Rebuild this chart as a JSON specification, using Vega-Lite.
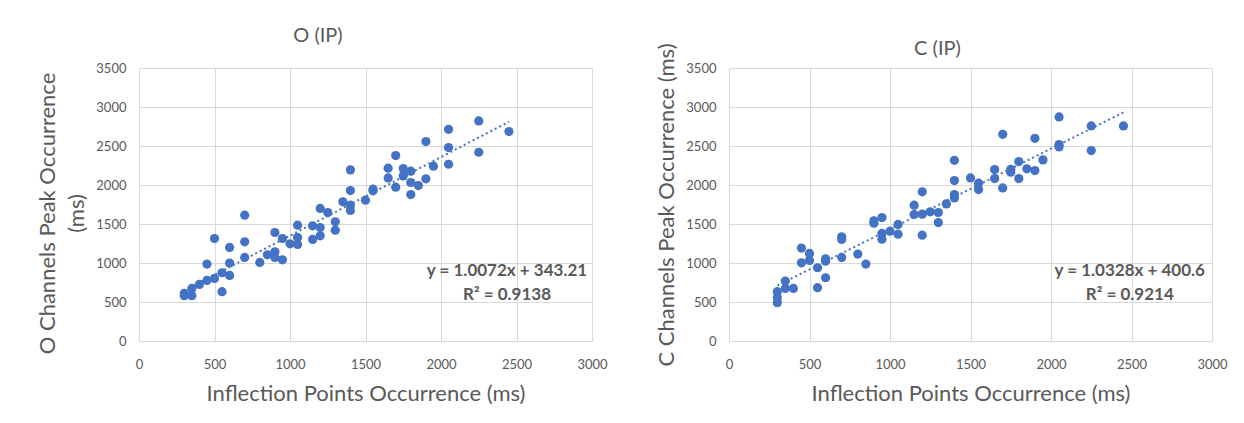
{
  "$schema": "https://vega.github.io/schema/vega-lite/v6.json",
  "background": "white",
  "padding": {"left": 36, "top": 26, "right": 5, "bottom": 5},
  "spacing": 137,
  "bounds": "flush",
  "datasets": {
    "O": [
      {"ip": 300, "peak": 610}, {"ip": 300, "peak": 580}, {"ip": 350, "peak": 674}, {"ip": 350, "peak": 580},
      {"ip": 400, "peak": 725}, {"ip": 450, "peak": 777}, {"ip": 450, "peak": 986}, {"ip": 500, "peak": 1314},
      {"ip": 500, "peak": 802}, {"ip": 550, "peak": 875}, {"ip": 550, "peak": 632}, {"ip": 600, "peak": 1199},
      {"ip": 600, "peak": 999}, {"ip": 600, "peak": 841}, {"ip": 700, "peak": 1613}, {"ip": 700, "peak": 1272},
      {"ip": 700, "peak": 1071}, {"ip": 800, "peak": 1007}, {"ip": 850, "peak": 1105}, {"ip": 900, "peak": 1391},
      {"ip": 900, "peak": 1144}, {"ip": 900, "peak": 1071}, {"ip": 950, "peak": 1314}, {"ip": 950, "peak": 1041},
      {"ip": 1000, "peak": 1246}, {"ip": 1050, "peak": 1485}, {"ip": 1050, "peak": 1327}, {"ip": 1050, "peak": 1238},
      {"ip": 1150, "peak": 1477}, {"ip": 1150, "peak": 1302}, {"ip": 1200, "peak": 1699}, {"ip": 1200, "peak": 1455},
      {"ip": 1200, "peak": 1349}, {"ip": 1250, "peak": 1647}, {"ip": 1300, "peak": 1528}, {"ip": 1300, "peak": 1421},
      {"ip": 1350, "peak": 1784}, {"ip": 1400, "peak": 2194}, {"ip": 1400, "peak": 1929}, {"ip": 1400, "peak": 1741},
      {"ip": 1400, "peak": 1673}, {"ip": 1500, "peak": 1805}, {"ip": 1550, "peak": 1946}, {"ip": 1550, "peak": 1925},
      {"ip": 1650, "peak": 2215}, {"ip": 1650, "peak": 2091}, {"ip": 1700, "peak": 2377}, {"ip": 1700, "peak": 1972},
      {"ip": 1750, "peak": 2211}, {"ip": 1750, "peak": 2117}, {"ip": 1800, "peak": 2177}, {"ip": 1800, "peak": 2032},
      {"ip": 1800, "peak": 1878}, {"ip": 1850, "peak": 1993}, {"ip": 1900, "peak": 2557}, {"ip": 1900, "peak": 2079},
      {"ip": 1950, "peak": 2241}, {"ip": 2050, "peak": 2714}, {"ip": 2050, "peak": 2480}, {"ip": 2050, "peak": 2266},
      {"ip": 2250, "peak": 2821}, {"ip": 2250, "peak": 2420}, {"ip": 2450, "peak": 2685}
    ],
    "Otrend": [{"ip": 300, "peak": 645.37}, {"ip": 2450, "peak": 2810.85}],
    "C": [
      {"ip": 300, "peak": 632}, {"ip": 300, "peak": 555}, {"ip": 300, "peak": 491}, {"ip": 350, "peak": 768},
      {"ip": 350, "peak": 674}, {"ip": 400, "peak": 674}, {"ip": 450, "peak": 1191}, {"ip": 450, "peak": 1003},
      {"ip": 500, "peak": 1122}, {"ip": 500, "peak": 1033}, {"ip": 550, "peak": 939}, {"ip": 550, "peak": 683},
      {"ip": 600, "peak": 1054}, {"ip": 600, "peak": 1024}, {"ip": 600, "peak": 811}, {"ip": 700, "peak": 1336},
      {"ip": 700, "peak": 1302}, {"ip": 700, "peak": 1071}, {"ip": 800, "peak": 1114}, {"ip": 850, "peak": 986},
      {"ip": 900, "peak": 1540}, {"ip": 900, "peak": 1511}, {"ip": 950, "peak": 1583}, {"ip": 950, "peak": 1379},
      {"ip": 950, "peak": 1306}, {"ip": 1000, "peak": 1408}, {"ip": 1050, "peak": 1494}, {"ip": 1050, "peak": 1370},
      {"ip": 1150, "peak": 1741}, {"ip": 1150, "peak": 1622}, {"ip": 1200, "peak": 1912}, {"ip": 1200, "peak": 1626},
      {"ip": 1200, "peak": 1357}, {"ip": 1250, "peak": 1656}, {"ip": 1300, "peak": 1647}, {"ip": 1300, "peak": 1519},
      {"ip": 1350, "peak": 1758}, {"ip": 1400, "peak": 2317}, {"ip": 1400, "peak": 2057}, {"ip": 1400, "peak": 1878},
      {"ip": 1400, "peak": 1835}, {"ip": 1500, "peak": 2091}, {"ip": 1550, "peak": 2023}, {"ip": 1550, "peak": 1942},
      {"ip": 1650, "peak": 2198}, {"ip": 1650, "peak": 2083}, {"ip": 1700, "peak": 2650}, {"ip": 1700, "peak": 1963},
      {"ip": 1750, "peak": 2202}, {"ip": 1750, "peak": 2164}, {"ip": 1800, "peak": 2300}, {"ip": 1800, "peak": 2083},
      {"ip": 1850, "peak": 2207}, {"ip": 1900, "peak": 2599}, {"ip": 1900, "peak": 2185}, {"ip": 1950, "peak": 2322},
      {"ip": 2050, "peak": 2872}, {"ip": 2050, "peak": 2518}, {"ip": 2050, "peak": 2488}, {"ip": 2250, "peak": 2757},
      {"ip": 2250, "peak": 2441}, {"ip": 2450, "peak": 2757}
    ],
    "Ctrend": [{"ip": 300, "peak": 710.44}, {"ip": 2450, "peak": 2930.96}]
  },
  "hconcat": [
    {
      "width": 453,
      "height": 273,
      "title": {"text": "O (IP)", "frame": "bounds", "anchor": "middle", "offset": 16, "dx": -4},
      "layer": [
        {"data": {"name": "O"}, "mark": {"type": "circle", "size": 85, "opacity": 1, "color": "#4472C4"},
         "encoding": {
           "x": {"field": "ip", "type": "quantitative", "scale": {"domain": [0, 3000], "nice": false},
                 "axis": {"title": "Inflection Points Occurrence (ms)"}},
           "y": {"field": "peak", "type": "quantitative", "scale": {"domain": [0, 3500], "nice": false},
                 "axis": {"title": ["O Channels Peak Occurrence", "(ms)"], "titleY": 145}}
         }},
        {"data": {"name": "Otrend"}, "mark": {"type": "line", "color": "#4472C4", "strokeWidth": 2, "strokeDash": [2, 3]},
         "encoding": {"x": {"field": "ip", "type": "quantitative"}, "y": {"field": "peak", "type": "quantitative"}}},
        {"data": {"values": [{"eq": "y = 1.0072x + 343.21", "r2": "R² = 0.9138"}]},
         "mark": {"type": "text", "fontWeight": "bold", "fontSize": 17, "color": "#595959", "align": "center", "baseline": "middle", "font": "Lato"},
         "encoding": {"x": {"datum": 2437, "type": "quantitative"}, "y": {"datum": 892, "type": "quantitative"}, "text": {"field": "eq"}}},
        {"data": {"values": [{"eq": "y = 1.0072x + 343.21", "r2": "R² = 0.9138"}]},
         "mark": {"type": "text", "fontWeight": "bold", "fontSize": 17, "color": "#595959", "align": "center", "baseline": "middle", "font": "Lato"},
         "encoding": {"x": {"datum": 2437, "type": "quantitative"}, "y": {"datum": 589, "type": "quantitative"}, "text": {"field": "r2"}}}
      ]
    },
    {
      "width": 483,
      "height": 273,
      "title": {"text": "C (IP)", "frame": "bounds", "anchor": "middle", "offset": -16, "dx": -4},
      "layer": [
        {"data": {"name": "C"}, "mark": {"type": "circle", "size": 85, "opacity": 1, "color": "#4472C4"},
         "encoding": {
           "x": {"field": "ip", "type": "quantitative", "scale": {"domain": [0, 3000], "nice": false},
                 "axis": {"title": "Inflection Points Occurrence (ms)"}},
           "y": {"field": "peak", "type": "quantitative", "scale": {"domain": [0, 3500], "nice": false},
                 "axis": {"title": "C Channels Peak Occurrence (ms)"}}
         }},
        {"data": {"name": "Ctrend"}, "mark": {"type": "line", "color": "#4472C4", "strokeWidth": 2, "strokeDash": [2, 3]},
         "encoding": {"x": {"field": "ip", "type": "quantitative"}, "y": {"field": "peak", "type": "quantitative"}}},
        {"data": {"values": [{"eq": "y = 1.0328x + 400.6", "r2": "R² = 0.9214"}]},
         "mark": {"type": "text", "fontWeight": "bold", "fontSize": 17, "color": "#595959", "align": "center", "baseline": "middle", "font": "Lato"},
         "encoding": {"x": {"datum": 2489, "type": "quantitative"}, "y": {"datum": 892, "type": "quantitative"}, "text": {"field": "eq"}}},
        {"data": {"values": [{"eq": "y = 1.0328x + 400.6", "r2": "R² = 0.9214"}]},
         "mark": {"type": "text", "fontWeight": "bold", "fontSize": 17, "color": "#595959", "align": "center", "baseline": "middle", "font": "Lato"},
         "encoding": {"x": {"datum": 2489, "type": "quantitative"}, "y": {"datum": 589, "type": "quantitative"}, "text": {"field": "r2"}}}
      ]
    }
  ],
  "config": {
    "font": "Lato",
    "numberFormat": "d",
    "view": {"stroke": null},
    "title": {"font": "Lato", "fontSize": 20, "fontWeight": "normal", "color": "#595959"},
    "axis": {
      "labelFont": "Lato", "labelFontSize": 13, "labelColor": "#595959", "labelOverlap": false,
      "titleFont": "Lato", "titleFontWeight": "normal", "titleColor": "#595959",
      "gridColor": "#D9D9D9", "gridWidth": 1, "ticks": false, "domain": false
    },
    "axisX": {"tickCount": 6, "labelPadding": 17, "titlePadding": 12, "titleFontSize": 22, "domain": true, "domainColor": "#D9D9D9", "labelFlush": false},
    "axisY": {"tickCount": 7, "labelPadding": 13, "titlePadding": 7, "titleFontSize": 22, "titleLineHeight": 29}
  }
}
